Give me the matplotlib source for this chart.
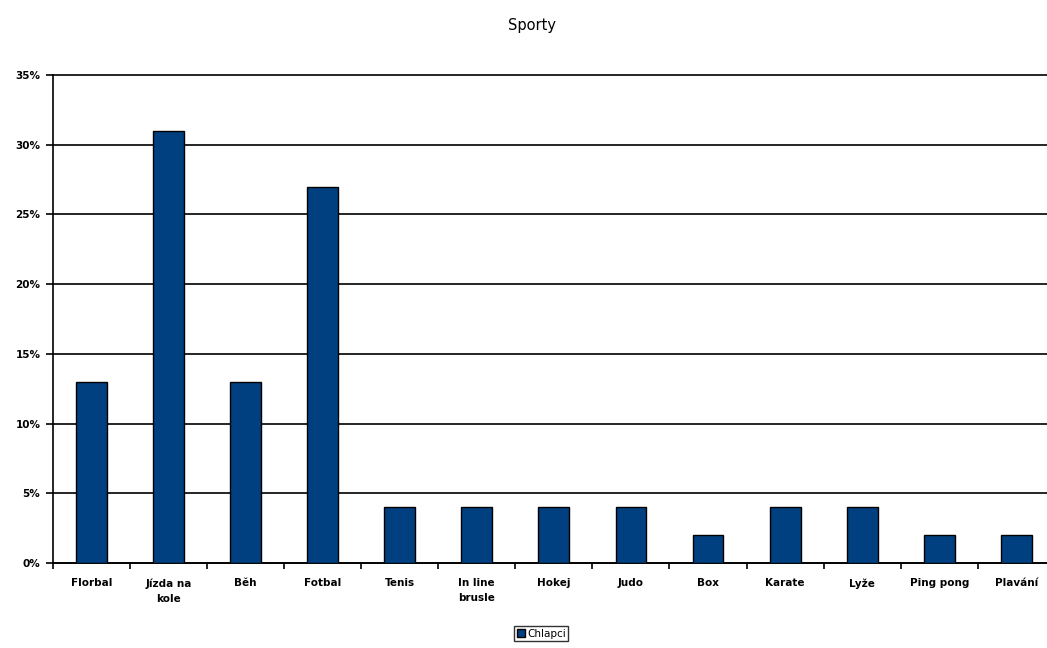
import numpy as np
import matplotlib.pyplot as plt
from matplotlib.patches import Patch

# data
sporty = ['Florbal', 'Jízda na\nkole', 'Běh', 'Fotbal', 'Tenis', 'In line\nbrusle',
          'Hokej', 'Judo', 'Box', 'Karate', 'Lyže', 'Ping pong', 'Plavání']
chlapci = [13, 31, 13, 27, 4, 4, 4, 4, 2, 4, 4, 2, 2]
y_ticks = [0, 5, 10, 15, 20, 25, 30, 35]

bar_color = '#003F80'

fig = plt.figure(figsize=(10.47, 6.48), dpi=100)
ax = fig.add_axes([0.0505, 0.1312, 0.957, 0.7531])

x = np.arange(len(sporty))
ax.bar(x, chlapci, width=0.40, color=bar_color, edgecolor='black', linewidth=1.0, zorder=3)

ax.set_xlim(-0.5, len(sporty) - 0.5)
ax.set_ylim(0, 35)
ax.set_yticks(y_ticks)
ax.set_yticklabels([f'{v}%' for v in y_ticks], fontsize=7.5, fontweight='bold')
ax.yaxis.grid(True, color='black', linewidth=1.2, zorder=0)
for gl in ax.get_ygridlines():
    gl.set_clip_on(False)

# labels at centers, tick marks between categories
ax.set_xticks(x)
ax.set_xticklabels(sporty, fontsize=7.5, fontweight='bold', va='top', linespacing=1.6)
ax.tick_params(axis='x', which='major', length=0, pad=11)
ax.set_xticks(np.arange(len(sporty) + 1) - 0.5, minor=True)
ax.tick_params(axis='x', which='minor', length=4, width=1.2, direction='out')
ax.tick_params(axis='y', length=5, width=1.2, direction='out', pad=4)

for s in ['top', 'right']:
    ax.spines[s].set_visible(False)
ax.spines['left'].set_linewidth(1.2)
ax.spines['bottom'].set_linewidth(1.2)

fig.text(0.508, 0.961, 'Sporty', ha='center', va='center', fontsize=10.5)

leg = fig.legend(handles=[Patch(facecolor=bar_color, edgecolor='black', label='Chlapci')],
                 loc='center', bbox_to_anchor=(0.517, 0.022), fontsize=7.5, frameon=True,
                 fancybox=False, edgecolor='black', handlelength=0.8, handleheight=0.8,
                 handletextpad=0.2, borderpad=0.25, borderaxespad=0)
leg.get_frame().set_linewidth(1.0)

fig.savefig('out.png', dpi=100)
